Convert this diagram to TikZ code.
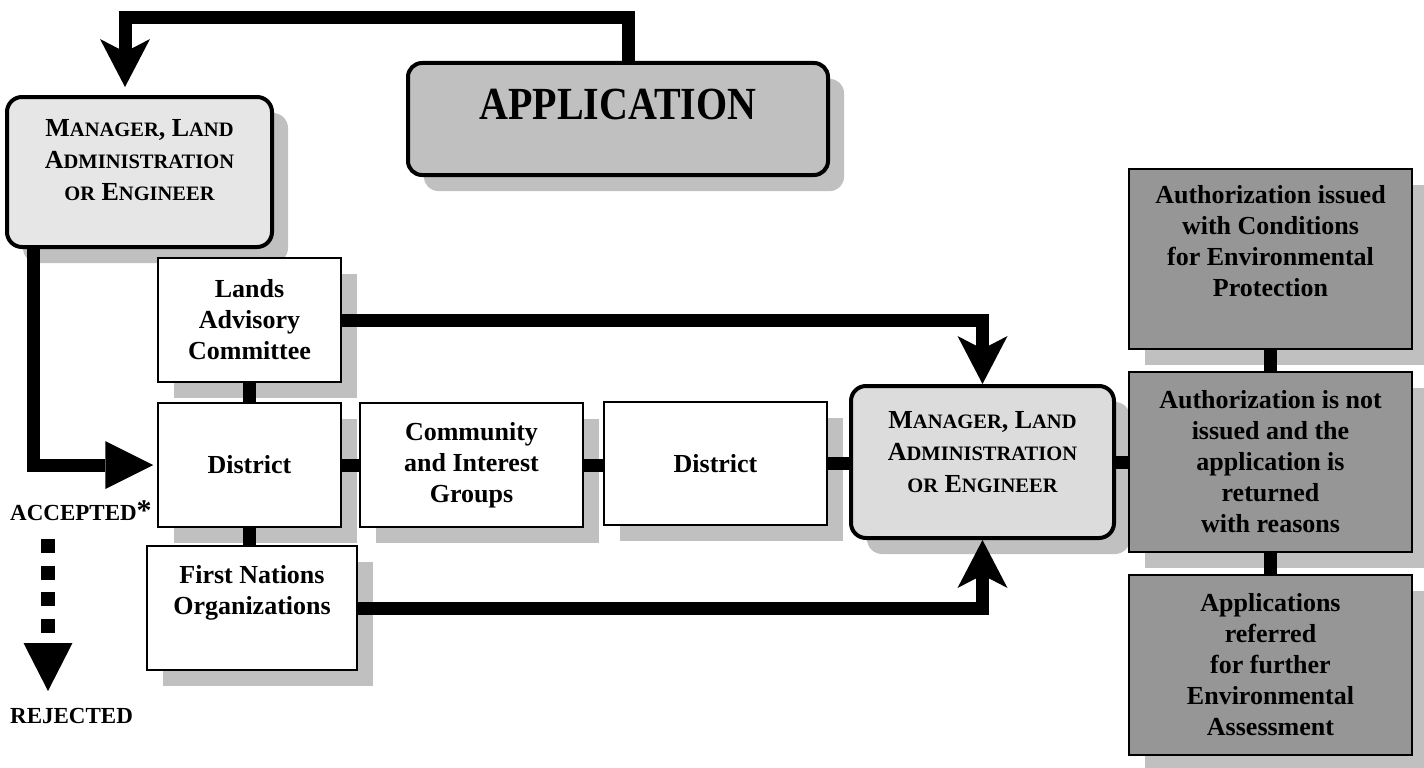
\documentclass[tikz,border=0pt]{standalone}
\usepackage{fontspec}
\setmainfont{Liberation Serif}
\usepackage{graphicx}
\usepackage{xcolor}
\usetikzlibrary{arrows.meta,shadows}

\definecolor{shadegray}{HTML}{C0C0C0}
\definecolor{appgray}{HTML}{C0C0C0}
\definecolor{mgrlight}{HTML}{E6E6E6}
\definecolor{mgrgray}{HTML}{DCDCDC}
\definecolor{outgray}{HTML}{969696}

\newcommand{\boxfont}{\fontsize{26}{31}\selectfont\bfseries}
\newcommand{\fakesc}[2]{#1{\fontsize{20.5}{31}\selectfont #2}}

\tikzset{
	boxshadow/.style={drop shadow={shadow xshift=16pt,shadow yshift=-16pt,opacity=1,fill=shadegray}},
	plainbox/.style={draw,line width=1.5pt,fill=white,inner sep=0pt,align=center,font=\boxfont,boxshadow},
	roundbox/.style={plainbox,line width=4pt,rounded corners=15pt,font=\fontsize{26}{32}\selectfont\bfseries},
	outbox/.style={plainbox,fill=outgray,minimum width=283pt,minimum height=180pt},
	flow/.style={line width=13pt},
	veetip/.style={-{Stealth[length=48pt,width=50pt,inset=13pt,line width=0pt]}},
	tritip/.style={-{Triangle[length=48pt,width=48pt,line width=0pt]}},
	tag/.style={font=\fontsize{23}{27}\selectfont\bfseries,inner sep=0pt,anchor=base west}
}

\begin{document}
\begin{tikzpicture}[x=1pt,y=-1pt]
	\useasboundingbox (0,0) rectangle (1424,768);

	% boxes
	\node[roundbox,fill=appgray,minimum width=420pt,minimum height=112pt,rounded corners=14pt] (app) at (618,119)
		{\raisebox{15pt}[\height][\depth]{\fontsize{40}{40}\selectfont\scalebox{1}[1.15]{APPLICATION}}};
	\node[roundbox,fill=mgrlight,minimum width=265pt,minimum height=150pt] (mgr1) at (139.5,172)
		{\fakesc{M}{ANAGER}, \fakesc{L}{AND}\\\fakesc{A}{DMINISTRATION}\\\fakesc{}{OR} \fakesc{E}{NGINEER}\\[-8pt]\mbox{}};
	\node[plainbox,minimum width=183pt,minimum height=124pt] (lac) at (249.5,320) {Lands\\Advisory\\Committee};
	\node[plainbox,minimum width=183pt,minimum height=124pt] (dist1) at (249.5,465) {District};
	\node[plainbox,minimum width=210pt,minimum height=124pt] (fn) at (252,608) {First Nations\\Organizations\\[5pt]\mbox{}};
	\node[plainbox,minimum width=223pt,minimum height=124pt] (comm) at (471.5,465) {Community\\and Interest\\Groups};
	\node[plainbox,minimum width=223pt,minimum height=123pt] (dist2) at (715.5,463.5) {District};
	\node[roundbox,fill=mgrgray,minimum width=263pt,minimum height=152pt] (mgr2) at (982.5,462)
		{\fakesc{M}{ANAGER}, \fakesc{L}{AND}\\\fakesc{A}{DMINISTRATION}\\\fakesc{}{OR} \fakesc{E}{NGINEER}\\[-11pt]\mbox{}};
	\node[outbox] (auth1) at (1270.5,259) {Authorization issued\\with Conditions\\for Environmental\\Protection\\[5pt]\mbox{}};
	\node[outbox] (auth2) at (1270.5,462) {Authorization is not\\issued and the\\application is\\returned\\with reasons};
	\node[outbox] (auth3) at (1270.5,665) {Applications\\referred\\for further\\Environmental\\Assessment};

	\node[tag] (accepted) at (10,520) {ACCEPTED{\fontsize{30}{30}\selectfont *}};
	\node[tag] (rejected) at (10,723) {REJECTED};

	% connectors
	\coordinate (toprail) at (125,18);
	\coordinate (mgr1in) at (125,87);
	\draw[flow,veetip] ([xshift=10pt]app.north) |- (toprail) -- (mgr1in);
	\draw[flow,tritip,shorten >=4pt] ([xshift=28pt]mgr1.south west) |- (dist1.west);
	\draw[flow,veetip] (lac.east) -| (mgr2.north);
	\draw[flow,veetip] (fn.east) -| (mgr2.south);
	\draw[flow] (lac.south) -- (dist1.north);
	\draw[flow] (dist1.south) -- (dist1.south |- fn.north);
	\draw[flow] (dist1.east) -- (comm.west);
	\draw[flow] (comm.east) -- (comm.east -| dist2.west);
	\draw[flow] (dist2.east) -- (dist2.east -| mgr2.west);
	\draw[flow] (mgr2.east) -- (mgr2.east -| auth2.west);
	\draw[flow] (auth1.south) -- (auth2.north);
	\draw[flow] (auth2.south) -- (auth3.north);

	\coordinate (dottop) at (48,539);
	\coordinate (dotend) at (48,691);
	\draw[line width=14pt,dash pattern=on 14pt off 12.6pt,-{Triangle[length=48pt,width=49pt,line width=0pt]}] (dottop) -- (dotend);
\end{tikzpicture}
\end{document}
